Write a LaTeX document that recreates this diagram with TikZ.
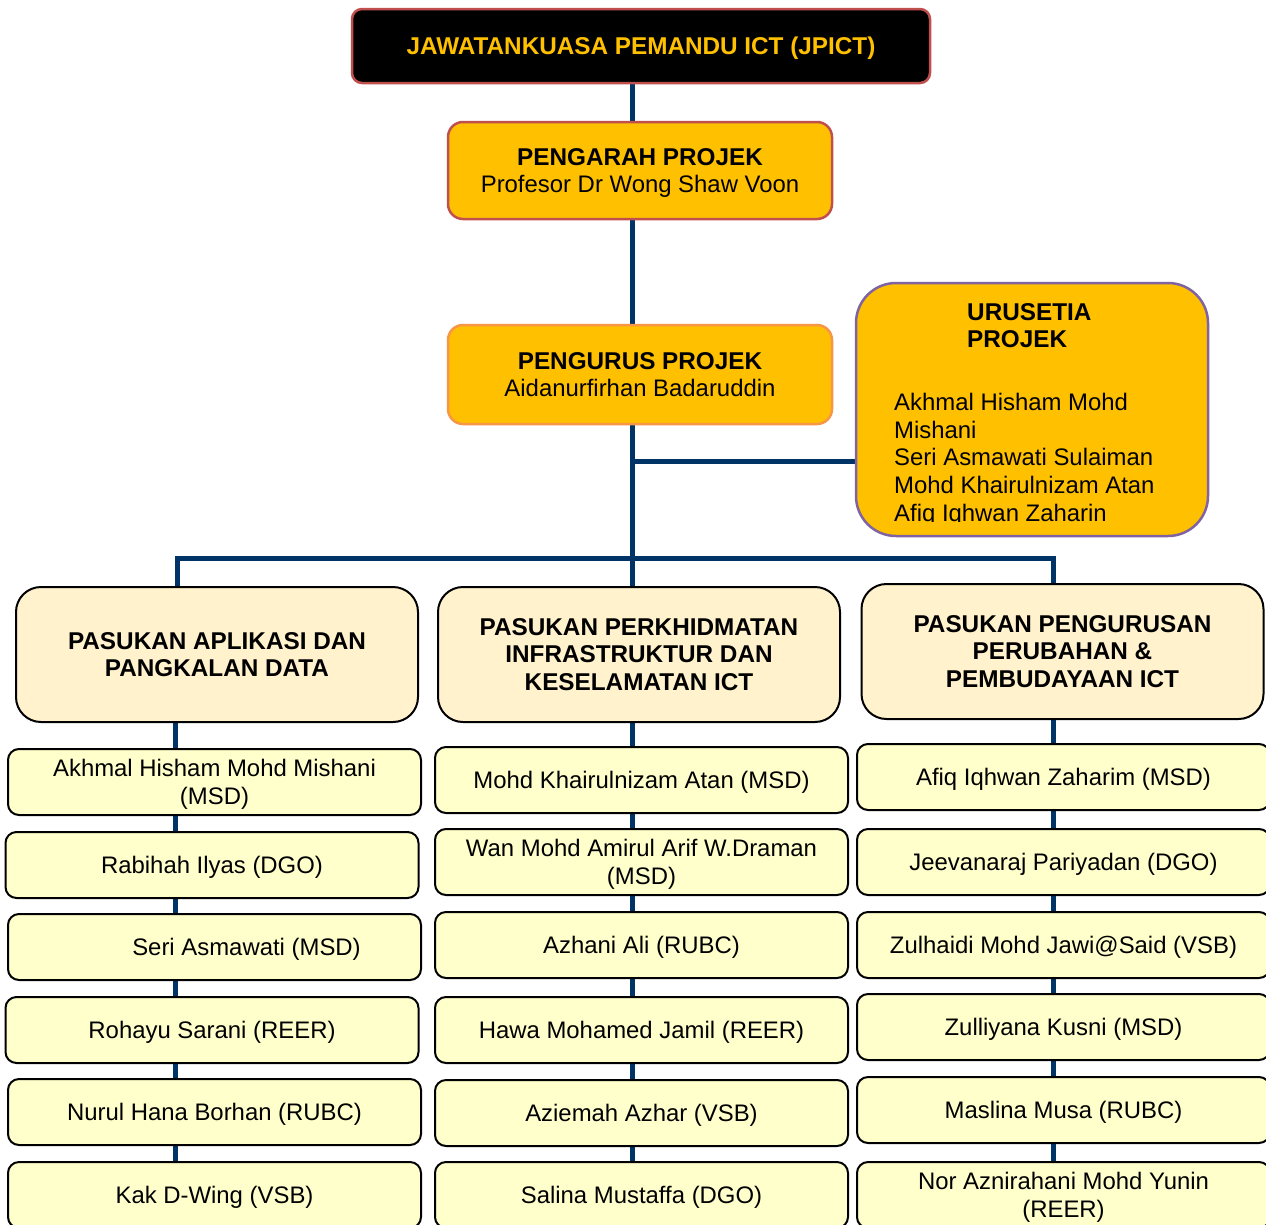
\documentclass[tikz,border=0pt]{standalone}
\usepackage{fontspec}
\setmainfont{Liberation Sans}
\usetikzlibrary{backgrounds}
\definecolor{linenavy}{HTML}{003366}
\definecolor{goldfill}{HTML}{FFC000}
\definecolor{redborder}{HTML}{C0504D}
\definecolor{orangeborder}{HTML}{F79646}
\definecolor{purpleborder}{HTML}{8064A2}
\definecolor{peachfill}{HTML}{FFF2CC}
\definecolor{lemonfill}{HTML}{FFFFCC}
\tikzset{
  txt/.style={font=\fontsize{23.9}{27.6}\selectfont, align=center, inner sep=0pt, text depth=0pt},
  boldtxt/.style={txt, font=\fontsize{24.3}{27.6}\selectfont\bfseries},
  topbox/.style={boldtxt, draw=redborder, line width=2.5pt, fill=black, text=goldfill, rounded corners=10pt, minimum width=578pt, minimum height=74pt},
  leadbox/.style={txt, fill=goldfill, line width=2.5pt, rounded corners=15pt, minimum width=384pt},
  urbox/.style={draw=purpleborder, fill=goldfill, line width=2.5pt, rounded corners=40pt, minimum width=352pt, minimum height=253pt, inner sep=0pt},
  teambox/.style={boldtxt, draw=black, fill=peachfill, line width=2pt, rounded corners=25pt, minimum width=402pt, minimum height=135pt},
  memberbox/.style={txt, draw=black, fill=lemonfill, line width=2pt, rounded corners=11pt, minimum width=413pt, minimum height=66pt},
  conn/.style={draw=linenavy, line width=5pt}
}
\newcommand{\bighead}[1]{{\fontsize{24.3}{27.6}\selectfont\bfseries #1}}
\begin{document}
\begin{tikzpicture}[x=1pt, y=-1pt]
\useasboundingbox (0,0) rectangle (1266,1224);
\clip (0,0) rectangle (1266,1224);

% top levels
\node[topbox] (top) at (641,46) {JAWATANKUASA PEMANDU ICT (JPICT)};
\node[leadbox, draw=redborder, minimum height=97pt] (pgr) at (640,170.5) {\bighead{PENGARAH PROJEK}\\Profesor Dr Wong Shaw Voon};
\node[leadbox, draw=orangeborder, minimum height=99pt] (pgs) at (640,374.5) {\bighead{PENGURUS PROJEK}\\Aidanurfirhan Badaruddin};

% urusetia
\node[urbox] (uru) at (1032,409.5) {};
\begin{scope}
\clip (856,283) rectangle (1208,521.5);
\node[txt, text depth=, align=left, anchor=north west] (urtext) at (894,303)
 {\hspace*{73pt}\bighead{URUSETIA}\\
  \hspace*{73pt}\bighead{PROJEK}\\[35.4pt]
  Akhmal Hisham Mohd\\
  Mishani\\
  Seri Asmawati Sulaiman\\
  Mohd Khairulnizam Atan\\
  Afiq Iqhwan Zaharin};
\end{scope}

% team headers
\node[teambox] (h1) at (217,654.5) {PASUKAN APLIKASI DAN\\PANGKALAN DATA};
\node[teambox] (h2) at (639,654.5) {PASUKAN PERKHIDMATAN\\INFRASTRUKTUR DAN\\KESELAMATAN ICT};
\node[teambox] (h3) at (1062.5,651.5) {PASUKAN PENGURUSAN\\PERUBAHAN \&\\PEMBUDAYAAN ICT};

% left column
\node[memberbox] (a1) at (214.5,782) {Akhmal Hisham Mohd Mishani\\(MSD)};
\node[memberbox] (a2) at (212,865) {Rabihah Ilyas (DGO)};
\node[memberbox] (a3) at (214.5,947) {\hspace*{64pt}Seri Asmawati (MSD)};
\node[memberbox] (a4) at (212,1030) {Rohayu Sarani (REER)};
\node[memberbox] (a5) at (214.5,1112) {Nurul Hana Borhan (RUBC)};
\node[memberbox] (a6) at (214.5,1195) {Kak D-Wing (VSB)};

% middle column
\node[memberbox] (b1) at (641.5,780) {Mohd Khairulnizam Atan (MSD)};
\node[memberbox] (b2) at (641.5,862) {Wan Mohd Amirul Arif W.Draman\\(MSD)};
\node[memberbox] (b3) at (641.5,945) {Azhani Ali (RUBC)};
\node[memberbox] (b4) at (641.5,1030) {Hawa Mohamed Jamil (REER)};
\node[memberbox] (b5) at (641.5,1113) {Aziemah Azhar (VSB)};
\node[memberbox] (b6) at (641.5,1195) {Salina Mustaffa (DGO)};

% right column
\node[memberbox] (c1) at (1063.5,777) {Afiq Iqhwan Zaharim (MSD)};
\node[memberbox] (c2) at (1063.5,862) {Jeevanaraj Pariyadan (DGO)};
\node[memberbox] (c3) at (1063.5,945) {Zulhaidi Mohd Jawi@Said (VSB)};
\node[memberbox] (c4) at (1063.5,1027) {Zulliyana Kusni (MSD)};
\node[memberbox] (c5) at (1063.5,1110) {Maslina Musa (RUBC)};
\node[memberbox] (c6) at (1063.5,1195) {Nor Aznirahani Mohd Yunin\\(REER)};

% helper coordinates
\coordinate (spine) at (632,0);
\coordinate (bus) at (632,558);
\coordinate (busL) at (177,558);
\coordinate (busR) at (1053,558);
\coordinate (urj) at (632,461);
\coordinate (colA) at (175,0);
\coordinate (colB) at (632,0);
\coordinate (colC) at (1053,0);

\begin{scope}[on background layer]
\fill[white] (0,0) rectangle (1266,1224);
\draw[conn] (top.south -| spine) -- (pgr.north -| spine);
\draw[conn] (pgr.south -| spine) -- (pgs.north -| spine);
\draw[conn] (pgs.south -| spine) -- (bus);
\draw[conn] (urj) -- (urj -| uru.west);
\draw[conn] (h1.north -| busL) -- (busL) -- (busR) -- (h3.north -| busR);
\draw[conn] (bus) -- (h2.north -| spine);
\foreach \p/\n in {h1/a1,a1/a2,a2/a3,a3/a4,a4/a5,a5/a6}
  {\draw[conn] (\p.south -| colA) -- (\n.north -| colA);}
\foreach \p/\n in {h2/b1,b1/b2,b2/b3,b3/b4,b4/b5,b5/b6}
  {\draw[conn] (\p.south -| colB) -- (\n.north -| colB);}
\foreach \p/\n in {h3/c1,c1/c2,c2/c3,c3/c4,c4/c5,c5/c6}
  {\draw[conn] (\p.south -| colC) -- (\n.north -| colC);}
\end{scope}
\end{tikzpicture}
\end{document}
